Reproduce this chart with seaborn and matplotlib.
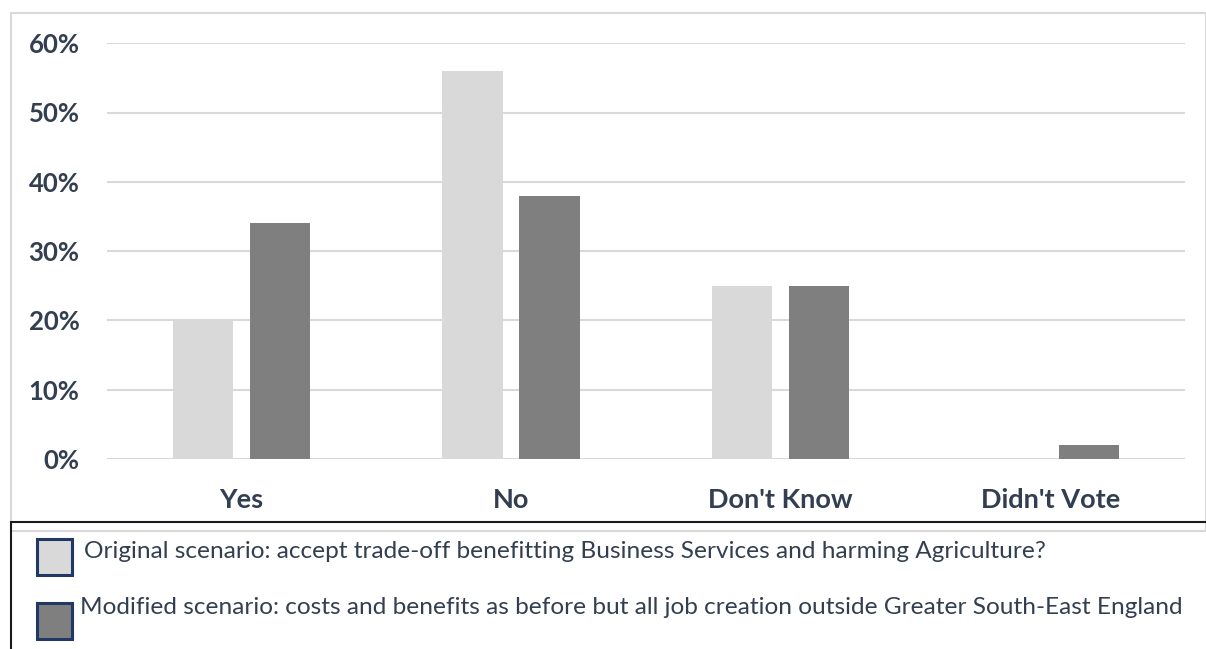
import numpy as np
import pandas as pd
import matplotlib
matplotlib.use('Agg')
import matplotlib.pyplot as plt
import seaborn as sns
from matplotlib.patches import Rectangle
from matplotlib.lines import Line2D
from matplotlib.ticker import FuncFormatter

# data
answers = ["Yes", "No", "Don't Know", "Didn't Vote"]
original = [20, 56, 25, 0]
modified = [34, 38, 25, 2]
scenario_labels = [
    'Original scenario: accept trade-off benefitting Business Services and harming Agriculture?',
    'Modified scenario: costs and benefits as before but all job creation outside Greater South-East England',
]

df = pd.DataFrame({
    'answer': answers * 2,
    'share': original + modified,
    'scenario': [scenario_labels[0]] * 4 + [scenario_labels[1]] * 4,
})

light = '#D9D9D9'
dark = '#7F7F7F'
navy = '#333F50'
W, H = 1206, 649

sns.set_style('white')
plt.rcParams['font.family'] = ['Lato', 'DejaVu Sans']

fig = plt.figure(figsize=(W / 100, H / 100), dpi=100)
ax = fig.add_axes([106.6 / W, (H - 459) / H, (1185 - 106.6) / W, 415.8 / H])

sns.barplot(data=df, x='answer', y='share', hue='scenario', order=answers,
            hue_order=scenario_labels, palette=[light, dark], saturation=1,
            width=0.571, gap=0.217, linewidth=0, legend=False, ax=ax)

ax.set_xlim(-0.5, 3.5)
ax.set_ylim(0, 60)
ax.set_yticks(np.arange(0, 61, 10))
ax.yaxis.set_major_formatter(FuncFormatter(lambda v, p: f'{v:.0f}%'))
ax.yaxis.grid(True, color=light, lw=1.5)
ax.set_axisbelow(True)
for s in ax.spines.values():
    s.set_visible(False)
ax.set_xlabel('')
ax.set_ylabel('')
ax.tick_params(axis='y', length=0, pad=19.5, labelsize=18.5, labelcolor=navy)
ax.tick_params(axis='x', length=0, pad=21, labelsize=19.5, labelcolor=navy)
for t in ax.get_xticklabels() + ax.get_yticklabels():
    t.set_fontweight('bold')

# outer chart frame
fig.add_artist(Rectangle((11 / W, (H - 531) / H), (W - 11) / W, (531 - 13) / H,
                         transform=fig.transFigure, fill=False, ec=light, lw=1.5))
# legend box (dark), cut by the image edge
fig.add_artist(Line2D([11 / W, 1 - 0.5 / W], [(H - 522) / H] * 2, transform=fig.transFigure,
                      color='#1A1A1A', lw=1.5))
fig.add_artist(Line2D([11 / W] * 2, [(H - 522) / H, 0], transform=fig.transFigure,
                      color='#1A1A1A', lw=1.5))

# legend entries
for i, (lab, col) in enumerate(zip(scenario_labels, [light, dark])):
    y_top = [539, 603][i]
    fig.add_artist(Rectangle((36.5 / W, (H - y_top - 35.5) / H), 35 / W, 35.5 / H,
                             transform=fig.transFigure, fc=col, ec='#1F3864', lw=2.2))
    fig.text([84, 80][i] / W, (H - [552, 607][i]) / H, lab, fontsize=17.6, color=navy,
             ha='left', va='center')

fig.savefig('out.png', dpi=100)
